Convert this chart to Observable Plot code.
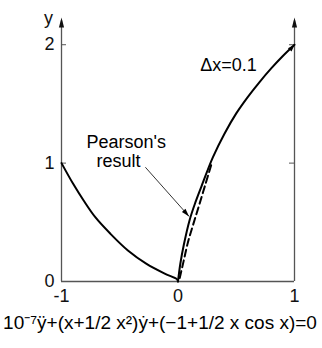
<!DOCTYPE html>
<html>
<head>
<meta charset="utf-8">
<script src="https://cdn.jsdelivr.net/npm/d3@7"></script>
<script src="https://cdn.jsdelivr.net/npm/@observablehq/plot@0.6"></script>
<style>
  body { margin: 0; background: #fff; }
  #chart svg { display: block; }
</style>
</head>
<body>
<div id="chart"></div>
<script>
// Solution branch for x < 0
const leftX = [-1, -0.9, -0.81, -0.71, -0.58, -0.43, -0.27, -0.11, -0.01, 0];
const leftY = [1, 0.825, 0.684, 0.543, 0.403, 0.262, 0.149, 0.065, 0.02, 0];

// Solution branch for x > 0 (step 0.1)
const rightX = [0, 0.02, 0.05, 0.1, 0.15, 0.2, 0.3, 0.4, 0.5, 0.6, 0.7, 0.8, 0.9, 1];
const rightY = [0, 0.15, 0.31, 0.52, 0.67, 0.80, 1.05, 1.25, 1.42, 1.56, 1.685, 1.80, 1.905, 2.0];

// Pearson's result (dashed)
const pearsonX = [0.015, 0.05, 0.085, 0.13, 0.18, 0.235, 0.29];
const pearsonY = [0.03, 0.18, 0.33, 0.48, 0.64, 0.82, 1.0];

// Axis ticks
const xTicks = [-1, 0, 1];
const yTicks = [0, 1, 2];
const xMax = 1, xMin = -1, yTop = 2.23;

// Annotations
const noteText = ["Pearson's", "result", "Δx=0.1"];
const noteX = [-0.785, -0.7, 0.19];
const noteY = [1.174, 1.013, 1.824];
const pointerFrom = [-0.28, 0.965];
const pointerTo = [0.095, 0.55];
const equation = "10\u207B\u2077\u00FF+(x+1/2 x\u00B2)\u1E8F+(\u22121+1/2 x cos x)=0";

// Filled arrowhead whose tip sits on the anchor point, pointing up
const head = (L, w) => ({
  draw(ctx) { ctx.moveTo(0, 0); ctx.lineTo(w, L); ctx.lineTo(-w, L); ctx.closePath(); }
});

const axisColor = "#555";

const chart = Plot.plot({
  width: 322,
  height: 348,
  marginLeft: 61,
  marginRight: 28,
  marginTop: 17,
  marginBottom: 67,
  x: { domain: [xMin, xMax] },
  y: { domain: [0, yTop] },
  style: { fontFamily: "Liberation Sans, Arial, sans-serif", color: "#111", background: "#fff" },
  marks: [
    // frame: two vertical axes with arrows and the baseline
    Plot.ruleX([xMin, xMax], { y1: 0, y2: yTop - 0.03, stroke: axisColor, strokeWidth: 1.3 }),
    Plot.ruleY([0], { x1: xMin, x2: xMax, stroke: axisColor, strokeWidth: 1.3 }),
    Plot.dot([xMin, xMax], { x: d => d, y: yTop, symbol: head(10, 2.6), fill: "#111", stroke: "none" }),
    // inward tick marks
    Plot.ruleY([1, 2], { x1: xMin, x2: xMin, insetRight: -5, stroke: axisColor, strokeWidth: 1 }),
    Plot.ruleY([1, 2], { x1: xMax, x2: xMax, insetLeft: -5, stroke: axisColor, strokeWidth: 1 }),
    // tick labels
    Plot.axisY({ ticks: yTicks, tickSize: 0, tickPadding: 7, fontSize: 18, label: null,
      tickFormat: d => String(d) }),
    Plot.axisX({ ticks: xTicks, tickSize: 0, tickPadding: 8, fontSize: 18, label: null,
      tickFormat: d => (d < 0 ? "-" + Math.abs(d) : String(d)) }),
    Plot.text(["y"], { x: xMin, y: yTop, dx: -13, dy: 1, fontSize: 18, text: d => d }),
    // solution curves
    Plot.line(leftX, { x: leftX, y: leftY, curve: "catmull-rom", stroke: "#000", strokeWidth: 2 }),
    Plot.line(rightX, { x: rightX, y: rightY, curve: "catmull-rom", stroke: "#000", strokeWidth: 2 }),
    Plot.dot([rightX.length - 1], { x: i => rightX[i], y: i => rightY[i], rotate: 43,
      symbol: head(7, 2.5), fill: "#000", stroke: "none" }),
    Plot.line(pearsonX, { x: pearsonX, y: pearsonY, curve: "catmull-rom", stroke: "#000",
      strokeWidth: 2, strokeDasharray: "7,4" }),
    // pointer to Pearson's result
    Plot.link([0], { x1: pointerFrom[0], y1: pointerFrom[1], x2: pointerTo[0], y2: pointerTo[1],
      stroke: "#000", strokeWidth: 0.8 }),
    Plot.dot([0], { x: pointerTo[0], y: pointerTo[1], rotate: 138, symbol: head(8, 2.4), fill: "#000", stroke: "none" }),
    // labels
    Plot.text(noteText, { x: (d, i) => noteX[i], y: (d, i) => noteY[i], text: d => d,
      textAnchor: "start", fontSize: 18, fill: "#000" }),
    Plot.text([equation], { frameAnchor: "bottom", dx: -18, dy: 41, lineAnchor: "middle",
      text: d => d, fontSize: 19, fill: "#000" })
  ]
});

document.getElementById("chart").append(chart);
</script>
</body>
</html>
